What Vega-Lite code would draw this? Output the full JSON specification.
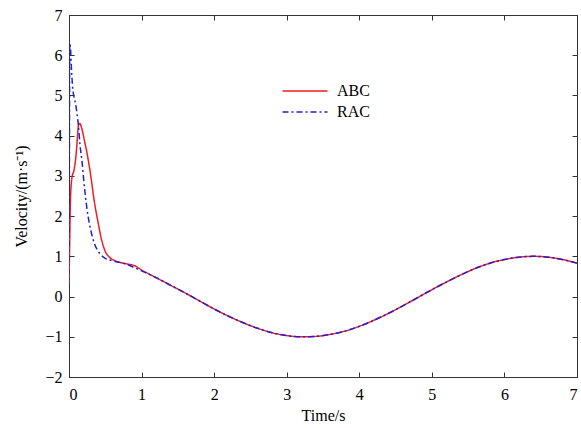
{
  "$schema": "https://vega.github.io/schema/vega-lite/v6.json",
  "width": 508,
  "height": 362,
  "autosize": {"type": "none"},
  "padding": {"left": 69, "top": 15, "right": 4, "bottom": 51},
  "background": "white",
  "config": {
    "view": {"stroke": "#333", "strokeWidth": 1},
    "axis": {
      "grid": false,
      "domainColor": "#333",
      "tickColor": "#333",
      "tickSize": -5,
      "labelFont": "Liberation Serif",
      "labelFontSize": 16,
      "labelColor": "#000",
      "titleFont": "Liberation Serif",
      "titleFontSize": 16,
      "titleFontWeight": "normal",
      "titleColor": "#000"
    }
  },
  "data": {
    "values": [
      {"t": 0, "v": 0.3, "s": "ABC"},
      {"t": 0.01, "v": 1.4, "s": "ABC"},
      {"t": 0.02, "v": 2.4, "s": "ABC"},
      {"t": 0.04, "v": 2.95, "s": "ABC"},
      {"t": 0.07, "v": 3.15, "s": "ABC"},
      {"t": 0.09, "v": 3.4, "s": "ABC"},
      {"t": 0.11, "v": 3.8, "s": "ABC"},
      {"t": 0.13, "v": 4.25, "s": "ABC"},
      {"t": 0.15, "v": 4.3, "s": "ABC"},
      {"t": 0.18, "v": 4.15, "s": "ABC"},
      {"t": 0.21, "v": 3.9, "s": "ABC"},
      {"t": 0.25, "v": 3.55, "s": "ABC"},
      {"t": 0.3, "v": 3.0, "s": "ABC"},
      {"t": 0.35, "v": 2.35, "s": "ABC"},
      {"t": 0.4, "v": 1.85, "s": "ABC"},
      {"t": 0.45, "v": 1.4, "s": "ABC"},
      {"t": 0.5, "v": 1.12, "s": "ABC"},
      {"t": 0.55, "v": 0.99, "s": "ABC"},
      {"t": 0.6, "v": 0.92, "s": "ABC"},
      {"t": 0.7, "v": 0.85, "s": "ABC"},
      {"t": 0.8, "v": 0.81, "s": "ABC"},
      {"t": 0.9, "v": 0.77, "s": "ABC"},
      {"t": 1.0, "v": 0.66, "s": "ABC"},
      {"t": 1.2, "v": 0.47, "s": "ABC"},
      {"t": 1.4, "v": 0.28, "s": "ABC"},
      {"t": 1.6, "v": 0.09, "s": "ABC"},
      {"t": 1.8, "v": -0.11, "s": "ABC"},
      {"t": 2.0, "v": -0.31, "s": "ABC"},
      {"t": 2.2, "v": -0.49, "s": "ABC"},
      {"t": 2.4, "v": -0.65, "s": "ABC"},
      {"t": 2.6, "v": -0.79, "s": "ABC"},
      {"t": 2.8, "v": -0.9, "s": "ABC"},
      {"t": 3.0, "v": -0.97, "s": "ABC"},
      {"t": 3.2, "v": -1.0, "s": "ABC"},
      {"t": 3.4, "v": -0.99, "s": "ABC"},
      {"t": 3.6, "v": -0.94, "s": "ABC"},
      {"t": 3.8, "v": -0.86, "s": "ABC"},
      {"t": 4.0, "v": -0.74, "s": "ABC"},
      {"t": 4.2, "v": -0.59, "s": "ABC"},
      {"t": 4.4, "v": -0.42, "s": "ABC"},
      {"t": 4.6, "v": -0.23, "s": "ABC"},
      {"t": 4.8, "v": -0.03, "s": "ABC"},
      {"t": 5.0, "v": 0.17, "s": "ABC"},
      {"t": 5.2, "v": 0.36, "s": "ABC"},
      {"t": 5.4, "v": 0.54, "s": "ABC"},
      {"t": 5.6, "v": 0.7, "s": "ABC"},
      {"t": 5.8, "v": 0.83, "s": "ABC"},
      {"t": 6.0, "v": 0.92, "s": "ABC"},
      {"t": 6.2, "v": 0.98, "s": "ABC"},
      {"t": 6.4, "v": 1.0, "s": "ABC"},
      {"t": 6.6, "v": 0.98, "s": "ABC"},
      {"t": 6.8, "v": 0.92, "s": "ABC"},
      {"t": 7.0, "v": 0.83, "s": "ABC"},
      {"t": 0, "v": 0.2, "s": "RAC"},
      {"t": 0.005, "v": 3.0, "s": "RAC"},
      {"t": 0.01, "v": 6.3, "s": "RAC"},
      {"t": 0.02, "v": 6.2, "s": "RAC"},
      {"t": 0.03, "v": 5.8, "s": "RAC"},
      {"t": 0.05, "v": 5.2, "s": "RAC"},
      {"t": 0.07, "v": 4.95, "s": "RAC"},
      {"t": 0.09, "v": 4.8, "s": "RAC"},
      {"t": 0.11, "v": 4.55, "s": "RAC"},
      {"t": 0.13, "v": 4.25, "s": "RAC"},
      {"t": 0.15, "v": 3.8, "s": "RAC"},
      {"t": 0.18, "v": 3.35, "s": "RAC"},
      {"t": 0.2, "v": 2.95, "s": "RAC"},
      {"t": 0.25, "v": 2.15, "s": "RAC"},
      {"t": 0.3, "v": 1.65, "s": "RAC"},
      {"t": 0.35, "v": 1.32, "s": "RAC"},
      {"t": 0.4, "v": 1.13, "s": "RAC"},
      {"t": 0.45, "v": 1.02, "s": "RAC"},
      {"t": 0.5, "v": 0.95, "s": "RAC"},
      {"t": 0.6, "v": 0.89, "s": "RAC"},
      {"t": 0.7, "v": 0.85, "s": "RAC"},
      {"t": 0.8, "v": 0.8, "s": "RAC"},
      {"t": 0.9, "v": 0.72, "s": "RAC"},
      {"t": 1.0, "v": 0.64, "s": "RAC"},
      {"t": 1.2, "v": 0.47, "s": "RAC"},
      {"t": 1.4, "v": 0.28, "s": "RAC"},
      {"t": 1.6, "v": 0.09, "s": "RAC"},
      {"t": 1.8, "v": -0.11, "s": "RAC"},
      {"t": 2.0, "v": -0.31, "s": "RAC"},
      {"t": 2.2, "v": -0.49, "s": "RAC"},
      {"t": 2.4, "v": -0.65, "s": "RAC"},
      {"t": 2.6, "v": -0.79, "s": "RAC"},
      {"t": 2.8, "v": -0.9, "s": "RAC"},
      {"t": 3.0, "v": -0.97, "s": "RAC"},
      {"t": 3.2, "v": -1.0, "s": "RAC"},
      {"t": 3.4, "v": -0.99, "s": "RAC"},
      {"t": 3.6, "v": -0.94, "s": "RAC"},
      {"t": 3.8, "v": -0.86, "s": "RAC"},
      {"t": 4.0, "v": -0.74, "s": "RAC"},
      {"t": 4.2, "v": -0.59, "s": "RAC"},
      {"t": 4.4, "v": -0.42, "s": "RAC"},
      {"t": 4.6, "v": -0.23, "s": "RAC"},
      {"t": 4.8, "v": -0.03, "s": "RAC"},
      {"t": 5.0, "v": 0.17, "s": "RAC"},
      {"t": 5.2, "v": 0.36, "s": "RAC"},
      {"t": 5.4, "v": 0.54, "s": "RAC"},
      {"t": 5.6, "v": 0.7, "s": "RAC"},
      {"t": 5.8, "v": 0.83, "s": "RAC"},
      {"t": 6.0, "v": 0.92, "s": "RAC"},
      {"t": 6.2, "v": 0.98, "s": "RAC"},
      {"t": 6.4, "v": 1.0, "s": "RAC"},
      {"t": 6.6, "v": 0.98, "s": "RAC"},
      {"t": 6.8, "v": 0.92, "s": "RAC"},
      {"t": 7.0, "v": 0.83, "s": "RAC"}
    ]
  },
  "layer": [
    {
      "mark": {"type": "line", "strokeWidth": 1.5, "interpolate": "monotone", "clip": true},
      "encoding": {
        "x": {
          "field": "t", "type": "quantitative",
          "scale": {"domain": [0, 7], "nice": false, "zero": false},
          "axis": {"values": [0, 1, 2, 3, 4, 5, 6, 7], "title": "Time/s", "labelPadding": 14, "titleX": 254, "titleY": 38, "titleBaseline": "middle", "titleAlign": "center", "orient": "bottom"}
        },
        "y": {
          "field": "v", "type": "quantitative",
          "scale": {"domain": [-2, 7], "nice": false, "zero": false},
          "axis": {"values": [-2, -1, 0, 1, 2, 3, 4, 5, 6, 7], "title": "Velocity/(m·s⁻¹)", "labelPadding": 12, "titleX": -48, "titleY": 181, "titleBaseline": "middle", "titleAlign": "center", "titleAngle": -90, "orient": "left"}
        },
        "color": {
          "field": "s", "type": "nominal",
          "scale": {"domain": ["ABC", "RAC"], "range": ["#ee1c25", "#1f1fd6"]},
          "legend": {
            "title": null, "orient": "none", "legendX": 226, "legendY": 66,
            "symbolType": "M-2.5,0H2.5", "symbolSize": 324, "symbolStrokeWidth": 1.5,
            "labelFont": "Liberation Serif", "labelFontSize": 16, "labelColor": "#000",
            "labelOffset": 22, "rowPadding": 3, "padding": 0
          }
        },
        "strokeDash": {
          "field": "s", "type": "nominal",
          "scale": {"domain": ["ABC", "RAC"], "range": [[1, 0], [6, 3, 2, 3]]},
          "legend": {
            "title": null, "orient": "none", "legendX": 226, "legendY": 66,
            "symbolType": "M-2.5,0H2.5", "symbolSize": 324, "symbolStrokeWidth": 1.5,
            "labelFont": "Liberation Serif", "labelFontSize": 16, "labelColor": "#000",
            "labelOffset": 22, "rowPadding": 3, "padding": 0
          }
        }
      }
    },
    {
      "mark": {"type": "line", "opacity": 0},
      "encoding": {
        "x": {"field": "t", "type": "quantitative", "axis": {"orient": "top", "values": [0, 1, 2, 3, 4, 5, 6, 7], "labels": false, "title": null, "domain": false}},
        "y": {"field": "v", "type": "quantitative", "axis": {"orient": "right", "values": [-2, -1, 0, 1, 2, 3, 4, 5, 6, 7], "labels": false, "title": null, "domain": false}},
        "detail": {"field": "s"}
      }
    }
  ],
  "resolve": {"axis": {"x": "independent", "y": "independent"}}
}
